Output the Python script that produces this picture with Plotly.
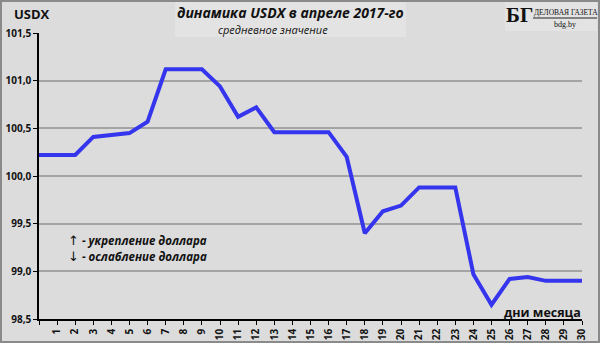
import plotly.graph_objects as go

days = list(range(0, 31))
day_labels = [""] + [str(d) for d in range(1, 31)]
usdx = [100.22, 100.22, 100.22, 100.41, 100.43, 100.45, 100.57, 101.12, 101.12, 101.12,
        100.94, 100.62, 100.72, 100.46, 100.46, 100.46, 100.46, 100.20, 99.40, 99.63,
        99.69, 99.88, 99.88, 99.88, 98.97, 98.65, 98.92, 98.94, 98.90, 98.90, 98.90]
y_ticks = [98.5, 99.0, 99.5, 100.0, 100.5, 101.0, 101.5]
y_tick_labels = ["98,5", "99,0", "99,5", "100,0", "100,5", "101,0", "101,5"]

W, H = 600, 343
L, R, T, B = 39, 18, 33, 24
pw, ph = W - L - R, H - T - B

def px(x):
    return (x - L) / pw

def py(y):
    return 1 - (y - T) / ph

BG = "#dcdcdc"
FONT = "Open Sans"

fig = go.Figure()
fig.add_trace(go.Scatter(x=days, y=usdx, mode="lines",
                         line=dict(color="#3535ee", width=4), hoverinfo="skip"))

fig.update_layout(
    width=W, height=H,
    margin=dict(l=L, r=R, t=T, b=B, autoexpand=False),
    paper_bgcolor=BG, plot_bgcolor=BG,
    showlegend=False,
    font=dict(family=FONT, color="#111111"),
    xaxis=dict(range=[0, 30], tickvals=days, ticktext=["<b>%s</b>" % t for t in day_labels],
               tickangle=-90, automargin=False,
               showgrid=False, zeroline=False, showline=True, linecolor="#000000",
               linewidth=1.5, ticks="outside", ticklen=4, tickcolor="#000000",
               tickfont=dict(size=10, family=FONT, color="#111111"), fixedrange=True),
    yaxis=dict(range=[98.5, 101.5], tickvals=y_ticks,
               ticktext=["<b>%s</b>" % t for t in y_tick_labels], automargin=False,
               showgrid=True, gridcolor="#a4a4a4", gridwidth=1.5, zeroline=False,
               showline=True, linecolor="#000000", linewidth=1.5,
               ticks="outside", ticklen=4, tickcolor="#000000",
               tickfont=dict(size=10, family=FONT, color="#111111"), fixedrange=True),
)

shapes = [
    dict(type="rect", xref="paper", yref="paper", x0=px(175), x1=px(406), y0=py(37), y1=py(2),
         fillcolor="#e3e3e3", line=dict(width=0), layer="above"),
    dict(type="rect", xref="paper", yref="paper", x0=px(505), x1=px(597), y0=py(31), y1=py(2),
         fillcolor="#e3e3e3", line=dict(width=0), layer="above"),
    dict(type="rect", xref="paper", yref="paper", x0=px(1), x1=px(599), y0=py(342), y1=py(1),
         fillcolor="rgba(0,0,0,0)", line=dict(color="#8a8a8a", width=2), layer="above"),
    dict(type="line", xref="paper", yref="paper", x0=px(533), x1=px(597), y0=py(18), y1=py(18),
         line=dict(color="#222222", width=1), layer="above"),
]
fig.update_layout(shapes=shapes)

ARW = '<span style="font-family:DejaVu Sans;font-size:13px">%s</span>'

ann = [
    dict(text="<b>USDX</b>", x=px(12), y=py(14), xanchor="left", yanchor="middle",
         font=dict(size=13, family=FONT, color="#111111")),
    dict(text="<b><i>динамика USDX в апреле 2017-го</i></b>", x=px(290), y=py(13),
         xanchor="center", yanchor="middle", font=dict(size=14, family=FONT, color="#111111")),
    dict(text="<i>средневное значение</i>", x=px(273), y=py(29),
         xanchor="center", yanchor="middle", font=dict(size=11, family=FONT, color="#111111")),
    dict(text="<b>БГ</b>", x=px(519), y=py(15), xanchor="center", yanchor="middle",
         font=dict(size=21, family="Liberation Serif", color="#111111")),
    dict(text="ДЕЛОВАЯ ГАЗЕТА", x=px(532), y=py(12), xanchor="left", yanchor="middle",
         font=dict(size=7.5, family="Liberation Serif", color="#111111")),
    dict(text="bdg.by", x=px(565), y=py(24), xanchor="center", yanchor="middle",
         font=dict(size=8, family="Liberation Serif", color="#111111")),
    dict(text=(ARW % "↑") + "<b><i> - укрепление доллара</i></b>", x=px(66), y=py(240),
         xanchor="left", yanchor="middle", font=dict(size=11.5, family=FONT, color="#111111")),
    dict(text=(ARW % "↓") + "<b><i> - ослабление доллара</i></b>", x=px(66), y=py(256),
         xanchor="left", yanchor="middle", font=dict(size=11.5, family=FONT, color="#111111")),
    dict(text="<b>дни месяца</b>", x=px(542), y=py(312), xanchor="center",
         yanchor="middle", font=dict(size=12.5, family=FONT, color="#111111")),
]
for a in ann:
    a.update(xref="paper", yref="paper", showarrow=False)
fig.update_layout(annotations=ann)

fig.write_html("out.html", config={"displayModeBar": False})
